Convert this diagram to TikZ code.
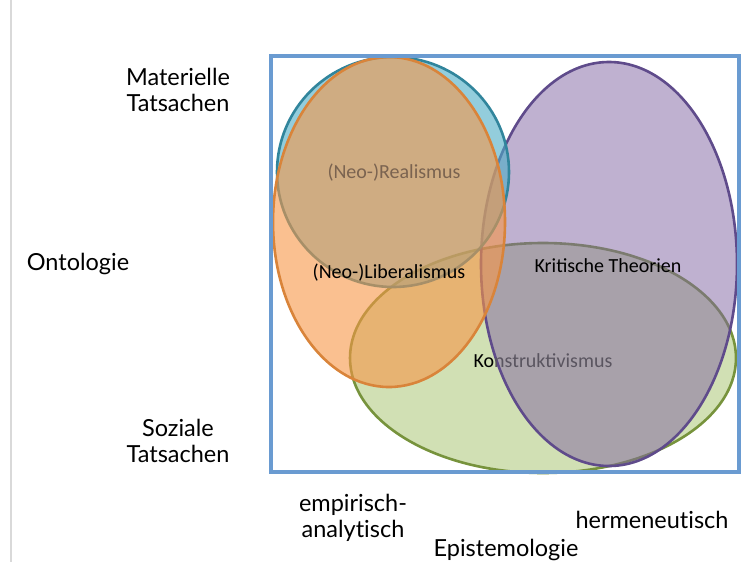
\documentclass[tikz,border=0pt]{standalone}
\usepackage{fontspec}
\setmainfont{Lato}[Ligatures=NoCommon]
\newfontfamily\calfont{Carlito}
\definecolor{boxblue}{HTML}{6A9BD1}
\definecolor{tealbase}{HTML}{4BACC6}
\definecolor{tealline}{HTML}{31859C}
\definecolor{orgbase}{HTML}{F79646}
\definecolor{orgline}{HTML}{D9843A}
\definecolor{purbase}{HTML}{8064A2}
\definecolor{purline}{HTML}{5F4B8B}
\definecolor{grnbase}{HTML}{9BBB59}
\definecolor{grnline}{HTML}{77933C}
\definecolor{realtext}{HTML}{7A6350}
\definecolor{konsgray}{HTML}{5A5560}
\begin{document}
\begin{tikzpicture}[x=1pt,y=-1pt,
  blob/.style={line width=2.6pt},
  outer/.style={align=center,font=\fontsize{23.5}{26}\selectfont,inner sep=0pt},
  inner/.style={font=\calfont\fontsize{20}{24}\selectfont,inner sep=0pt}]
\useasboundingbox (0,0) rectangle (752,562);
\fill[white] (0,0) rectangle (752,562);
\draw[black!15, line width=2pt] (11,0) -- (11,562);
% ellipses
\filldraw[blob, fill=grnbase, fill opacity=0.45, draw=grnline] (543,358) ellipse [x radius=193pt, y radius=115pt];
\filldraw[blob, fill=purbase, fill opacity=0.5, draw=purline] (609,264) ellipse [x radius=128pt, y radius=202pt];
\filldraw[blob, fill=tealbase, fill opacity=0.6, draw=tealline] (393,172) ellipse [x radius=116pt, y radius=115pt];
\filldraw[blob, fill=orgbase, fill opacity=0.6, draw=orgline] (389,222) ellipse [x radius=116pt, y radius=165pt];
% frame
\draw[boxblue, line width=3.5pt] (271,56) rectangle (739,472);
% inner labels
\node[inner, text=realtext] (real) at (394,173) {(Neo-)Realismus};
\node[inner] (lib) at (389,273) {(Neo-)Liberalismus};
\node[inner] (krit) at (608,266) {Kritische Theorien};
\node[inner] (kons) at (543,361) {Ko\textcolor{konsgray}{nstruktivismus}};
% outer labels
\node[outer] (mat) at (178,90) {Materielle\\Tatsachen};
\node[outer] (onto) at (78,264) {Ontologie};
\node[outer] (soz) at (178,441) {Soziale\\Tatsachen};
\node[outer] (emp) at (353,518) {empirisch-\\analytisch};
\node[outer] (herm) at (652,520) {hermeneutisch};
\node[outer] (epi) at (506,550) {Epistemologie};
\end{tikzpicture}
\end{document}
